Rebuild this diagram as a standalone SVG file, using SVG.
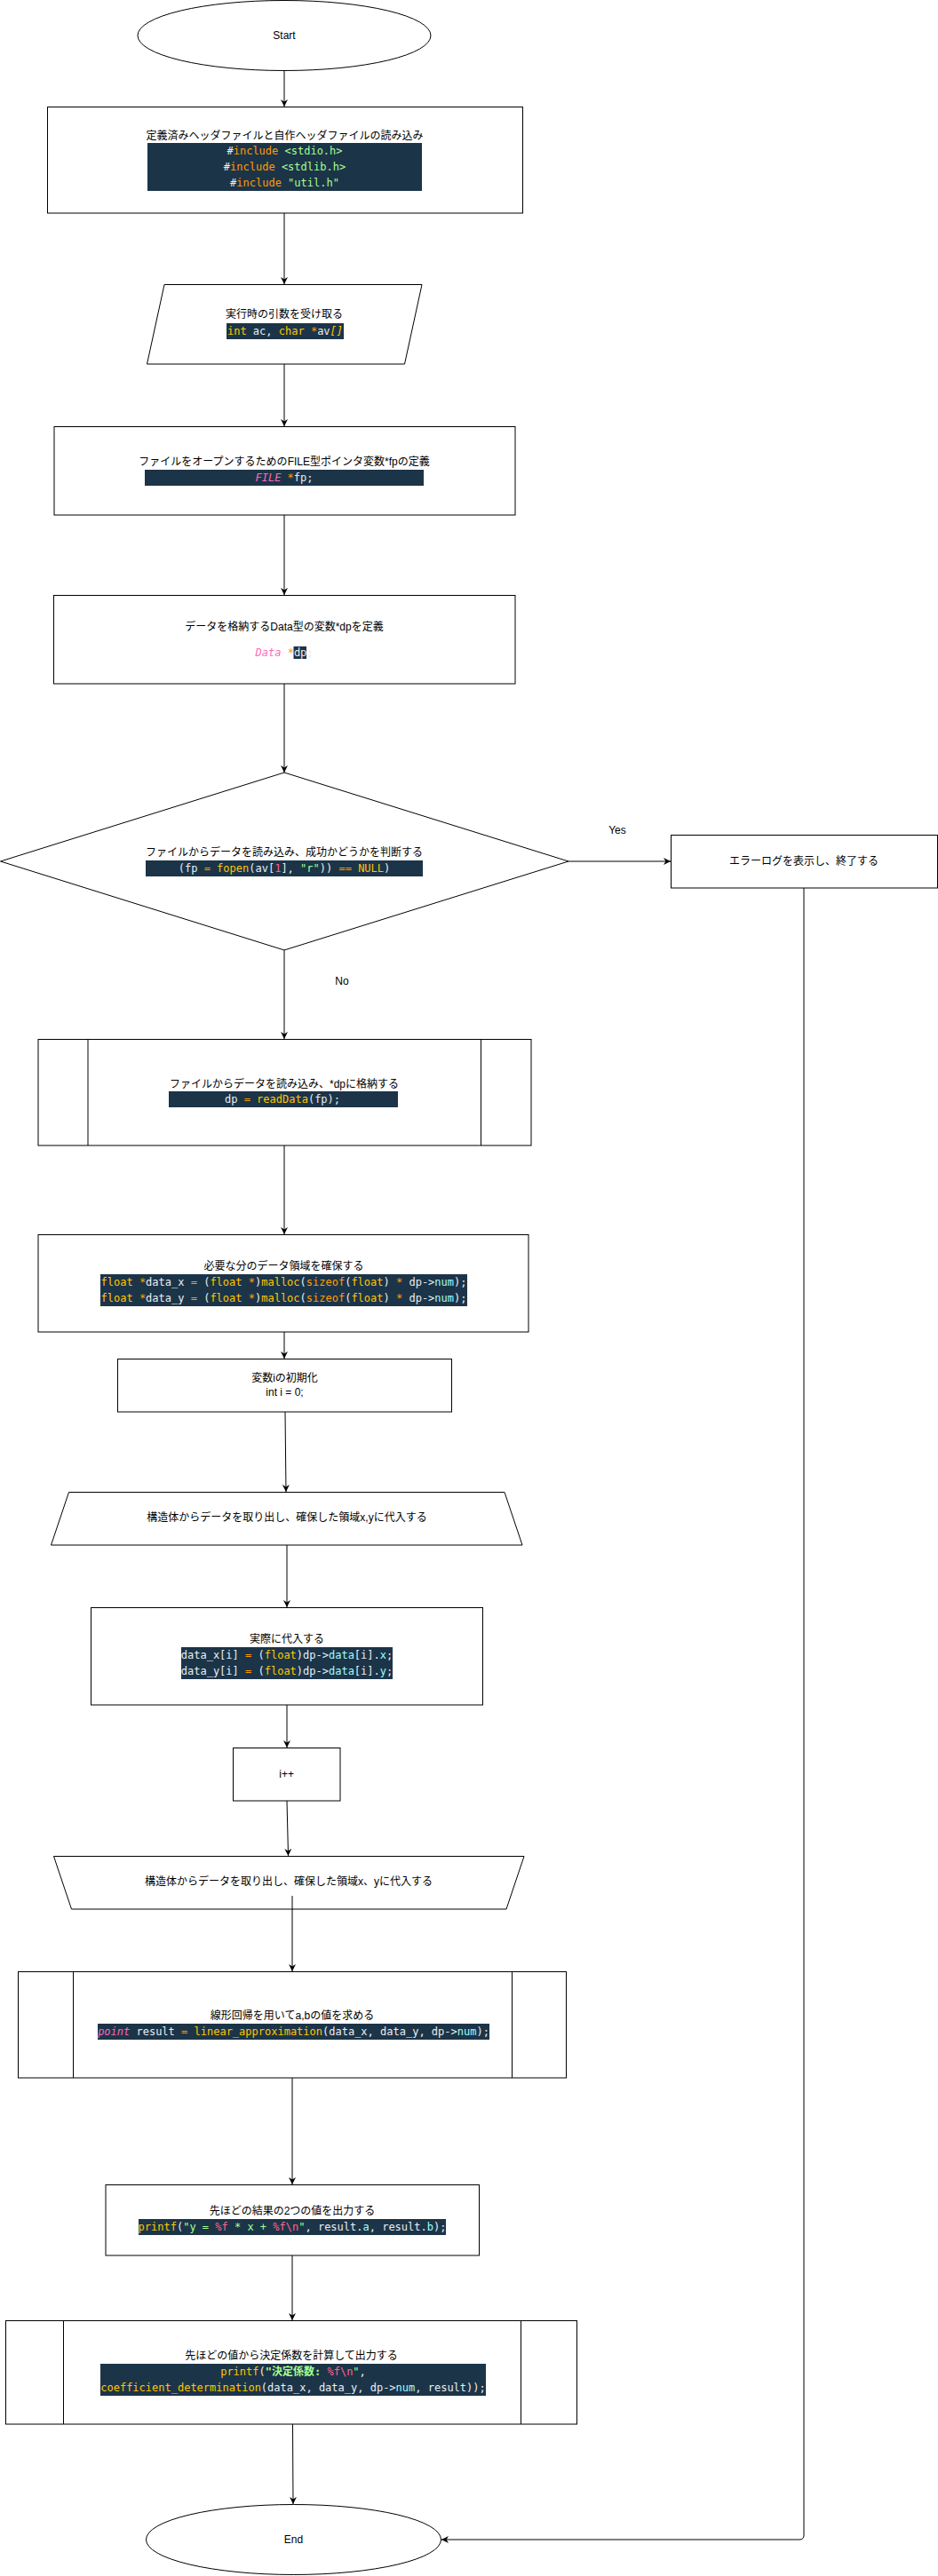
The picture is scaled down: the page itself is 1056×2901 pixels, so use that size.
<svg xmlns="http://www.w3.org/2000/svg" width="1056" height="2901" viewBox="0 0 1056 2901">
<style>
.shape{fill:#fff;stroke:#000;stroke-width:1}
.bar{fill:none;stroke:#000;stroke-width:1}
.edge{fill:none;stroke:#000;stroke-width:1}
.lbl{font-family:"Liberation Sans","Noto Sans CJK JP",sans-serif;font-size:12px;fill:#000;text-anchor:middle}
.code{font-family:"DejaVu Sans Mono","Liberation Mono","Noto Sans CJK JP",monospace;font-size:12px;fill:#e9eef3;text-anchor:middle;white-space:pre}
.bg{fill:#1c3448}
.o{fill:#ff9d00}.y{fill:#ffc600}.g{fill:#a5ff90}.p{fill:#ff628c}.k{fill:#ff68b8;font-style:italic}.c{fill:#9effff}
</style>
<defs>
<marker id="arr" viewBox="0 0 10 10" refX="10" refY="5" markerWidth="8" markerHeight="8" markerUnits="userSpaceOnUse" orient="auto">
<path d="M0,0 L10,5 L0,10 L3,5 Z" fill="#000"/>
</marker>
</defs>
<rect width="1056" height="2901" fill="#fff"/>
<g id="start">
<ellipse class="shape" cx="320" cy="40" rx="165" ry="39.5"/>
<text class="lbl" x="320" y="44">Start</text>
</g>
<g id="headers">
<rect class="shape" x="53.5" y="120.5" width="535" height="119.5"/>
<text class="lbl" x="320.5" y="157">定義済みヘッダファイルと自作ヘッダファイルの読み込み</text>
<rect class="bg" x="166" y="161" width="309" height="54"/>
<text class="code" xml:space="preserve" x="320.5" y="174">#<tspan class="o">include</tspan><tspan class="g"> &lt;stdio.h&gt;</tspan></text>
<text class="code" xml:space="preserve" x="320.5" y="192">#<tspan class="o">include</tspan><tspan class="g"> &lt;stdlib.h&gt;</tspan></text>
<text class="code" xml:space="preserve" x="320.5" y="210">#<tspan class="o">include</tspan><tspan class="g"> "util.h"</tspan></text>
</g>
<g id="args">
<polygon class="shape" points="185,320.5 475,320.5 455.5,410 165.5,410"/>
<text class="lbl" x="320" y="358">実行時の引数を受け取る</text>
<rect class="bg" x="255" y="364" width="132" height="18"/>
<text class="code" xml:space="preserve" x="321" y="377"><tspan class="y">int</tspan> ac, <tspan class="y">char</tspan> <tspan class="o">*</tspan>av<tspan class="y" font-style="italic">[]</tspan></text>
</g>
<g id="fileptr">
<rect class="shape" x="61" y="480.5" width="519" height="99.5"/>
<text class="lbl" x="320" y="524">ファイルをオープンするためのFILE型ポインタ変数*fpの定義</text>
<rect class="bg" x="163" y="529" width="314" height="18"/>
<text class="code" xml:space="preserve" x="320" y="542"><tspan class="k">FILE</tspan> <tspan class="o">*</tspan>fp;</text>
</g>
<g id="dataptr">
<rect class="shape" x="60.5" y="670.5" width="519.5" height="99.5"/>
<text class="lbl" x="320" y="710">データを格納するData型の変数*dpを定義</text>
<rect class="bg" x="330.5" y="728" width="14.5" height="14"/>
<text class="code" xml:space="preserve" x="287.5" y="739" style="text-anchor:start"><tspan class="k">Data</tspan> <tspan class="o">*</tspan>dp<tspan fill="#dfe9f2">;</tspan></text>
</g>
<g id="decision">
<polygon class="shape" points="320,870 640,970 320,1070 0.5,970"/>
<text class="lbl" x="320" y="964">ファイルからデータを読み込み、成功かどうかを判断する</text>
<rect class="bg" x="164" y="969" width="312" height="18"/>
<text class="code" xml:space="preserve" x="320" y="982">(fp <tspan class="o">=</tspan> <tspan class="y">fopen</tspan>(av[<tspan class="p">1</tspan>], <tspan class="g">"r"</tspan>)) <tspan class="o">==</tspan> <tspan class="y">NULL</tspan>)</text>
</g>
<g id="error">
<rect class="shape" x="755.5" y="940.5" width="300" height="59.5"/>
<text class="lbl" x="905" y="974">エラーログを表示し、終了する</text>
</g>
<g id="readdata">
<rect class="shape" x="43" y="1170.5" width="555" height="119.5"/>
<line class="bar" x1="99" y1="1170.5" x2="99" y2="1290"/>
<line class="bar" x1="541.5" y1="1170.5" x2="541.5" y2="1290"/>
<text class="lbl" x="320" y="1225">ファイルからデータを読み込み、*dpに格納する</text>
<rect class="bg" x="190" y="1229" width="258" height="18"/>
<text class="code" xml:space="preserve" x="318" y="1242">dp <tspan class="o">=</tspan> <tspan class="y">readData</tspan>(fp);</text>
</g>
<g id="malloc">
<rect class="shape" x="43" y="1390.5" width="552" height="109.5"/>
<text class="lbl" x="319.5" y="1430">必要な分のデータ領域を確保する</text>
<rect class="bg" x="113" y="1435" width="413" height="36"/>
<text class="code" xml:space="preserve" x="319.5" y="1448"><tspan class="y">float</tspan> <tspan class="o">*</tspan>data_x <tspan class="o">=</tspan> (<tspan class="y">float</tspan> <tspan class="o">*</tspan>)<tspan class="y">malloc</tspan>(<tspan class="o">sizeof</tspan>(<tspan class="y">float</tspan>) <tspan class="o">*</tspan> dp-&gt;<tspan class="c">num</tspan>);</text>
<text class="code" xml:space="preserve" x="319.5" y="1466"><tspan class="y">float</tspan> <tspan class="o">*</tspan>data_y <tspan class="o">=</tspan> (<tspan class="y">float</tspan> <tspan class="o">*</tspan>)<tspan class="y">malloc</tspan>(<tspan class="o">sizeof</tspan>(<tspan class="y">float</tspan>) <tspan class="o">*</tspan> dp-&gt;<tspan class="c">num</tspan>);</text>
</g>
<g id="init">
<rect class="shape" x="132.5" y="1530.5" width="376" height="59.5"/>
<text class="lbl" x="320.5" y="1556">変数iの初期化</text>
<text class="lbl" x="320.5" y="1572">int i = 0;</text>
</g>
<g id="loopstart">
<polygon class="shape" points="77.5,1680.5 568,1680.5 588,1740 57.5,1740"/>
<text class="lbl" x="323" y="1713">構造体からデータを取り出し、確保した領域x,yに代入する</text>
</g>
<g id="assign">
<rect class="shape" x="102.5" y="1810.5" width="441" height="109.5"/>
<text class="lbl" x="323" y="1850">実際に代入する</text>
<rect class="bg" x="204" y="1855" width="238" height="36"/>
<text class="code" xml:space="preserve" x="323" y="1868">data_x[i] <tspan class="o">=</tspan> (<tspan class="y">float</tspan>)dp-&gt;<tspan class="c">data</tspan>[i].<tspan class="c">x</tspan>;</text>
<text class="code" xml:space="preserve" x="323" y="1886">data_y[i] <tspan class="o">=</tspan> (<tspan class="y">float</tspan>)dp-&gt;<tspan class="c">data</tspan>[i].<tspan class="c">y</tspan>;</text>
</g>
<g id="increment">
<rect class="shape" x="262.5" y="1968.5" width="120.5" height="59.5"/>
<text class="lbl" x="322.7" y="2002">i++</text>
</g>
<g id="loopend">
<polygon class="shape" points="60.5,2090.5 590,2090.5 570,2150 80.5,2150"/>
<text class="lbl" x="325" y="2123">構造体からデータを取り出し、確保した領域x、yに代入する</text>
</g>
<g id="linear">
<rect class="shape" x="20.5" y="2220.5" width="617" height="119.5"/>
<line class="bar" x1="82.5" y1="2220.5" x2="82.5" y2="2340"/>
<line class="bar" x1="576.5" y1="2220.5" x2="576.5" y2="2340"/>
<text class="lbl" x="329" y="2274">線形回帰を用いてa,bの値を求める</text>
<rect class="bg" x="110" y="2279" width="441" height="18"/>
<text class="code" xml:space="preserve" x="330.5" y="2292"><tspan class="k">point</tspan> result <tspan class="o">=</tspan> <tspan class="y">linear_approximation</tspan>(data_x, data_y, dp-&gt;<tspan class="c">num</tspan>);</text>
</g>
<g id="print">
<rect class="shape" x="119" y="2460.5" width="420.5" height="79.5"/>
<text class="lbl" x="329" y="2494">先ほどの結果の2つの値を出力する</text>
<rect class="bg" x="156" y="2499" width="346" height="18"/>
<text class="code" xml:space="preserve" x="329" y="2512"><tspan class="y">printf</tspan>(<tspan class="g">"y = </tspan><tspan class="p">%f</tspan><tspan class="g"> * x + </tspan><tspan class="p">%f\n</tspan><tspan class="g">"</tspan>, result.<tspan class="c">a</tspan>, result.<tspan class="c">b</tspan>);</text>
</g>
<g id="coef">
<rect class="shape" x="6.5" y="2613.5" width="643" height="116.5"/>
<line class="bar" x1="71.5" y1="2613.5" x2="71.5" y2="2730"/>
<line class="bar" x1="586.5" y1="2613.5" x2="586.5" y2="2730"/>
<text class="lbl" x="328" y="2657">先ほどの値から決定係数を計算して出力する</text>
<rect class="bg" x="113" y="2662" width="434" height="36"/>
<text class="code" xml:space="preserve" x="330" y="2675"><tspan class="y">printf</tspan>(<tspan class="g" font-weight="bold">"決定係数: </tspan><tspan class="p">%f\n</tspan><tspan class="g">"</tspan>,</text>
<text class="code" xml:space="preserve" x="330" y="2693"><tspan class="y">coefficient_determination</tspan>(data_x, data_y, dp-&gt;<tspan class="c">num</tspan>, result));</text>
</g>
<g id="end">
<ellipse class="shape" cx="330.5" cy="2860" rx="166" ry="39.5"/>
<text class="lbl" x="330.5" y="2864">End</text>
</g>
<g id="connectors">
<path class="edge" d="M320,80 L320,120" marker-end="url(#arr)"/>
<path class="edge" d="M320,240 L320,320" marker-end="url(#arr)"/>
<path class="edge" d="M320,410 L320,480" marker-end="url(#arr)"/>
<path class="edge" d="M320,580 L320,670" marker-end="url(#arr)"/>
<path class="edge" d="M320,770 L320,870" marker-end="url(#arr)"/>
<path class="edge" d="M640,970 L755,970" marker-end="url(#arr)"/>
<path class="edge" d="M320,1070 L320,1170" marker-end="url(#arr)"/>
<path class="edge" d="M320,1290 L320,1390" marker-end="url(#arr)"/>
<path class="edge" d="M320,1500 L320,1530" marker-end="url(#arr)"/>
<path class="edge" d="M321,1590 L322,1680" marker-end="url(#arr)"/>
<path class="edge" d="M323,1740 L323,1810" marker-end="url(#arr)"/>
<path class="edge" d="M323,1920 L323,1968" marker-end="url(#arr)"/>
<path class="edge" d="M323,2028 L324.5,2090" marker-end="url(#arr)"/>
<path class="edge" d="M329,2135 L329,2220" marker-end="url(#arr)"/>
<path class="edge" d="M329,2340 L329,2460" marker-end="url(#arr)"/>
<path class="edge" d="M329,2540 L329,2613" marker-end="url(#arr)"/>
<path class="edge" d="M329.5,2730 L330,2820" marker-end="url(#arr)"/>
<path class="edge" d="M905,1000 L905,2855 Q905,2860 900,2860 L497,2860" marker-end="url(#arr)"/>
<text class="lbl" x="695" y="939">Yes</text>
<text class="lbl" x="385" y="1109">No</text>
</g>
</svg>
